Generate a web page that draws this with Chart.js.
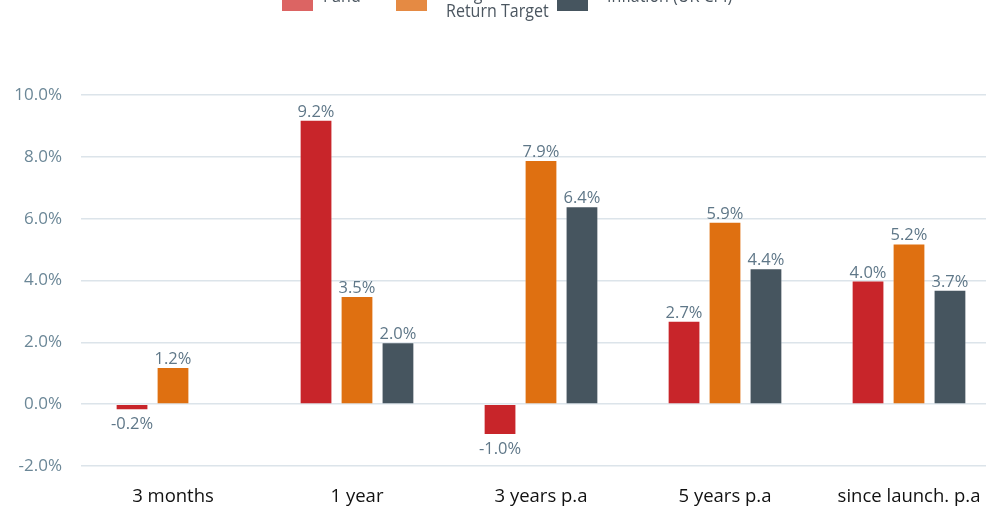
<!DOCTYPE html>
<html lang="en">
<head>
  <meta charset="UTF-8">
  <title>Performance vs target and inflation</title>
  <script src="https://cdn.jsdelivr.net/npm/chart.js@4.4.0/dist/chart.umd.min.js"></script>
  <style>
    html, body { margin: 0; padding: 0; background: #fff; overflow: hidden; }
    #wrap { position: relative; width: 1001px; height: 506px; }
  </style>
</head>
<body>
<div id="wrap"><canvas id="chart" width="1001" height="506"></canvas></div>
<script>
  // periods and returns (%)
  const periods   = ['3 months', '1 year', '3 years p.a', '5 years p.a', 'since launch. p.a'];
  const fund      = [-0.2, 9.2, -1.0, 2.7, 4.0];
  const target    = [1.2, 3.5, 7.9, 5.9, 5.2];
  const inflation = [null, 2.0, 6.4, 4.4, 3.7];
  const seriesNames = ['Fund', ['Long Term', 'Return Target'], 'Inflation (UK CPI)'];

  const barColors    = ['#c8252a', '#df7011', '#46555f'];
  const legendColors = ['#dc6463', '#e58a43', '#46555f'];
  const FONT = "'Open Sans', 'Noto Sans', sans-serif";

  // value labels above / below each bar
  const valueLabels = {
    id: 'valueLabels',
    afterDatasetsDraw(chart) {
      const ctx = chart.ctx;
      ctx.save();
      ctx.font = '16.5px ' + FONT;
      ctx.fillStyle = '#5f7788';
      ctx.textAlign = 'center';
      ctx.textBaseline = 'alphabetic';
      chart.data.datasets.forEach((ds, i) => {
        chart.getDatasetMeta(i).data.forEach((bar, j) => {
          const v = ds.data[j];
          if (v === null) return;
          const txt = v.toFixed(1) + '%';
          ctx.fillText(txt, bar.x, v >= 0 ? bar.y - 3 : bar.y + 19);
        });
      });
      ctx.restore();
    }
  };

  // legend row across the top edge
  const topLegend = {
    id: 'topLegend',
    afterDraw(chart) {
      const ctx = chart.ctx;
      const boxX = [282, 396, 557];
      const textX = [323, 446, 607];
      ctx.save();
      ctx.font = '18px ' + FONT;
      ctx.textBaseline = 'alphabetic';
      seriesNames.forEach((name, i) => {
        ctx.fillStyle = legendColors[i];
        ctx.fillRect(boxX[i], -20, 31, 31);
        ctx.fillStyle = '#4b5660';
        const lines = Array.isArray(name) ? name : [name];
        ctx.save();
        ctx.translate(textX[i], 0);
        ctx.scale(0.89, 1);
        lines.forEach((l, k) => ctx.fillText(l, 0, (lines.length > 1 ? 0 : 2) + k * 17));
        ctx.restore();
      });
      ctx.restore();
    }
  };

  new Chart(document.getElementById('chart'), {
    type: 'bar',
    data: {
      labels: periods,
      datasets: [
        { label: 'Fund', data: fund },
        { label: 'Long Term Return Target', data: target },
        { label: 'Inflation (UK CPI)', data: inflation }
      ].map((d, i) => Object.assign(d, {
        backgroundColor: barColors[i],
        borderColor: 'rgba(255,255,255,0.35)',
        borderWidth: 1,
        categoryPercentage: 0.668,
        barPercentage: 0.8
      }))
    },
    options: {
      responsive: false,
      animation: false,
      layout: { padding: { top: 95, right: 0, left: 0, bottom: 0 } },
      plugins: { legend: { display: false }, tooltip: { enabled: false } },
      scales: {
        x: {
          grid: { display: false },
          border: { display: false },
          ticks: { color: '#111', font: { family: FONT, size: 18.5 }, padding: 12, maxRotation: 0 },
          afterFit: s => { s.height = 40; }
        },
        y: {
          min: -2, max: 10,
          grid: { color: '#dce4ea', lineWidth: 1.5, drawTicks: false },
          border: { display: false },
          ticks: {
            stepSize: 2,
            color: '#6b8797',
            font: { family: FONT, size: 17 },
            padding: 19,
            callback: v => v.toFixed(1) + '%'
          },
          afterFit: s => { s.width = 81; }
        }
      }
    },
    plugins: [valueLabels, topLegend]
  });
</script>
</body>
</html>
